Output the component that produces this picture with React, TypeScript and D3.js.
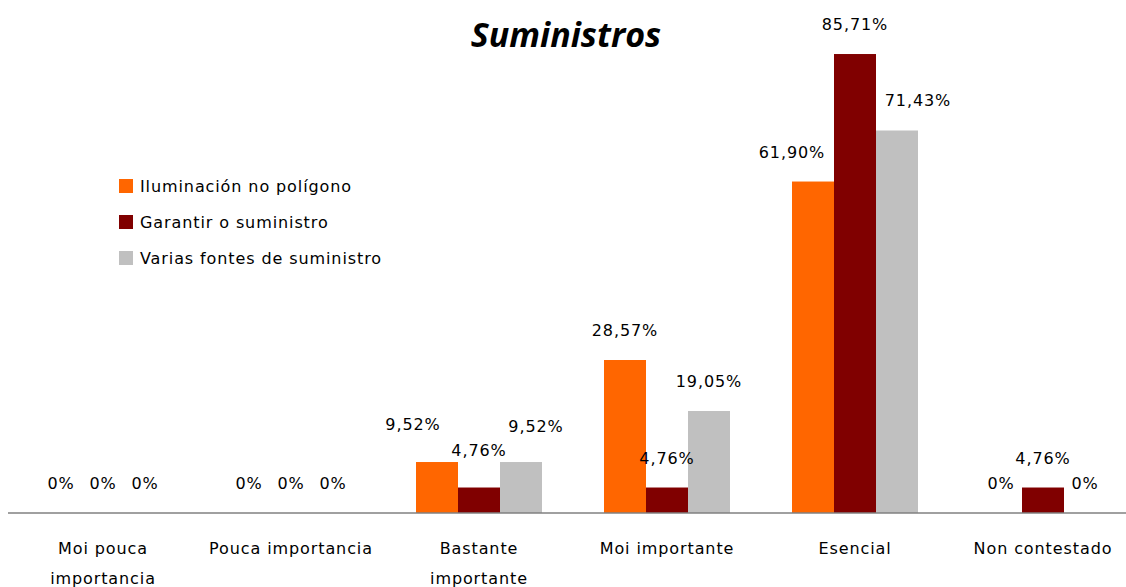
import React from "react";
import * as d3 from "d3";

const categories: string[][] = [
  ["Moi pouca", "importancia"],
  ["Pouca importancia"],
  ["Bastante", "importante"],
  ["Moi importante"],
  ["Esencial"],
  ["Non contestado"],
];
const seriesNames = ["Iluminación no polígono", "Garantir o suministro", "Varias fontes de suministro"];
const iluminacion = [0, 0, 9.52, 28.57, 61.9, 0];
const garantir = [0, 0, 4.76, 4.76, 85.71, 4.76];
const varias = [0, 0, 9.52, 19.05, 71.43, 0];
const colors = ["#FF6600", "#800000", "#C0C0C0"];

// label nudges [category][series] -> [dx, dy]
const labelNudge: Record<string, [number, number]> = {
  "2-0": [-24, -8],
  "2-1": [0, -8],
  "2-2": [15, -6],
  "3-1": [0, 0],
  "4-0": [-21, 0],
  "4-2": [21, 0],
};

const fmt = (v: number) => (v === 0 ? "0%" : v.toFixed(2).replace(".", ",") + "%");

export default function App() {
  const W = 1126, H = 587;
  const baseY = 513;
  const x0 = d3.scaleBand<number>().domain(d3.range(categories.length)).range([9, 9 + 6 * 188]).paddingInner(0).paddingOuter(0);
  const x1 = d3.scaleBand<number>().domain([0, 1, 2]).range([31, 157]).padding(0);
  const y = d3.scaleLinear().domain([0, 100]).range([baseY, baseY - 535.5]);
  const series = [iluminacion, garantir, varias];
  const font = "'DejaVu Sans', Verdana, sans-serif";
  const ls = 0.9;

  return (
    <svg width={W} height={H} style={{ position: "absolute", left: 0, top: 0, background: "#fff" }}>
      <text x={566} y={47} textAnchor="middle" fontFamily="'Open Sans', sans-serif" fontStyle="italic" fontWeight="bold" fontSize={34} fill="#000">
        Suministros
      </text>
      {categories.map((c, ci) =>
        series.map((s, si) => {
          const v = s[ci];
          const bx = (x0(ci) as number) + (x1(si) as number);
          const bw = x1.bandwidth();
          return v > 0 ? (
            <rect key={`b${ci}-${si}`} x={bx} y={y(v)} width={bw} height={baseY - y(v)} fill={colors[si]} />
          ) : null;
        })
      )}
      <line x1={8} x2={W} y1={baseY} y2={baseY} stroke="#808080" strokeWidth={1.5} />
      {categories.map((c, ci) =>
        series.map((s, si) => {
          const v = s[ci];
          const cx = (x0(ci) as number) + (x1(si) as number) + x1.bandwidth() / 2;
          const n = labelNudge[`${ci}-${si}`] || [0, 0];
          return (
            <text key={`l${ci}-${si}`} x={cx + n[0]} y={y(v) - 24 + n[1]} textAnchor="middle" fontFamily={font} fontSize={16} letterSpacing={ls} fill="#000">
              {fmt(v)}
            </text>
          );
        })
      )}
      {categories.map((c, ci) => {
        const cx = (x0(ci) as number) + x0.bandwidth() / 2;
        return (
          <text key={`c${ci}`} textAnchor="middle" fontFamily={font} fontSize={16} letterSpacing={ls} fill="#000">
            {c.map((line, li) => (
              <tspan key={li} x={cx} y={554 + li * 30}>{line}</tspan>
            ))}
          </text>
        );
      })}
      {seriesNames.map((n, i) => (
        <g key={`lg${i}`} transform={`translate(119, ${179 + i * 36})`}>
          <rect width={14} height={14} fill={colors[i]} />
          <text x={21} y={13} fontFamily={font} fontSize={16} letterSpacing={ls} fill="#000">{n}</text>
        </g>
      ))}
    </svg>
  );
}
